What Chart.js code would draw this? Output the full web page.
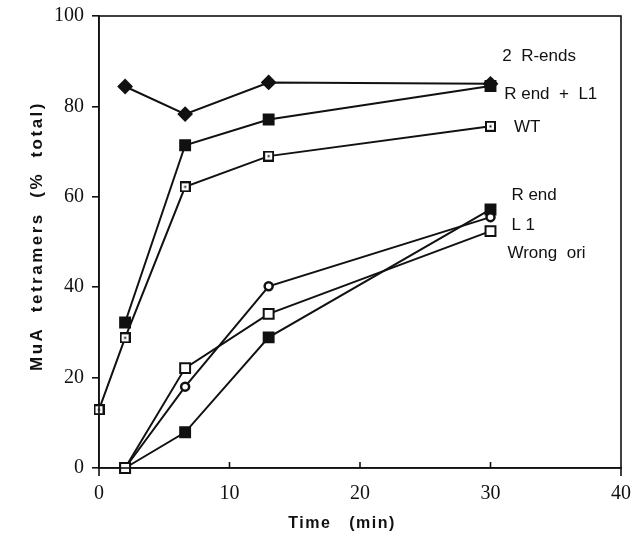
<!DOCTYPE html>
<html>
<head>
<meta charset="utf-8">
<script src="https://cdn.jsdelivr.net/npm/chart.js@4/dist/chart.umd.min.js"></script>
<style>
  html, body { margin:0; padding:0; background:#fff; }
  #wrap { width:641px; height:540px; }
</style>
</head>
<body>
<div id="wrap"><canvas id="chart" width="641" height="540"></canvas></div>
<script>
// ── Dados ──────────────────────────────────────────────────────────────
const timesTop   = [2, 6.6, 13, 30];
const timesWT    = [0, 2, 6.6, 13, 30];
const timesLow   = [2, 6.6, 13, 30];

const twoREnds   = [84.4, 78.3, 85.3, 85.0];
const rEndL1     = [32.2, 71.4, 77.1, 84.5];
const wildType   = [12.9, 28.8, 62.2, 69.0, 75.6];
const rEnd       = [0, 7.9, 28.9, 57.2];
const l1         = [0, 18.0, 40.2, 55.5];
const wrongOri   = [0, 22.1, 34.1, 52.4];

const seriesNames = ['2  R-ends', 'R end  +  L1', 'WT', 'R end', 'L 1', 'Wrong  ori'];
const xTicks = [0, 10, 20, 30, 40];
const yTicks = [0, 20, 40, 60, 80, 100];
const xTitle = 'Time   (min)';
const yTitle = 'MuA  tetramers  (%  total)';

const INK = '#111';
const SERIF = '"Liberation Serif", "DejaVu Serif", serif';
const SANS  = '"Liberation Sans", Arial, sans-serif';

function pts(xs, ys) { return xs.map((x, i) => ({ x, y: ys[i] })); }

// quadrado aberto com ponto no meio (WT)
function dotSquare() {
  const c = document.createElement('canvas');
  c.width = 11; c.height = 11;
  const g = c.getContext('2d');
  g.fillStyle = '#fff'; g.fillRect(0, 0, 11, 11);
  g.strokeStyle = INK; g.lineWidth = 2; g.strokeRect(1, 1, 9, 9);
  g.fillStyle = INK; g.fillRect(4.5, 4.5, 2, 2);
  return c;
}

function ds(label, data, style) {
  return Object.assign({
    label, data,
    borderColor: INK, borderWidth: 2, tension: 0,
    pointBorderColor: INK, pointBorderWidth: 2,
    pointBackgroundColor: INK, pointRadius: 5, clip: 12,
  }, style);
}

const datasets = [
  ds(seriesNames[5], pts(timesLow, wrongOri), { pointStyle:'rect', pointRadius:7, pointBackgroundColor:'#fff', order:0 }),
  ds(seriesNames[2], pts(timesWT, wildType),  { pointStyle: dotSquare(), order:1 }),
  ds(seriesNames[1], pts(timesTop, rEndL1),   { pointStyle:'rect', pointRadius:7, order:2 }),
  ds(seriesNames[0], pts(timesTop, twoREnds), { pointStyle:'rectRot', pointRadius:6.5, order:3 }),
  ds(seriesNames[4], pts(timesLow, l1),       { pointStyle:'circle', pointRadius:4, pointBorderWidth:2.5, pointBackgroundColor:'#fff', order:4 }),
  ds(seriesNames[3], pts(timesLow, rEnd),     { pointStyle:'rect', pointRadius:7, order:5 }),
];

// posição dos rótulos à direita (coordenadas de dados)
const labelAnchors = [
  { x: 30.9, y: 91.0 }, { x: 31.05, y: 82.7 }, { x: 31.8, y: 75.4 },
  { x: 31.6, y: 60.4 }, { x: 31.6, y: 53.8 }, { x: 31.3, y: 47.6 },
];

const framePlugin = {
  id: 'frame',
  afterDraw(chart) {
    const { ctx, chartArea: a, scales: { x, y } } = chart;
    ctx.save();
    ctx.strokeStyle = INK; ctx.lineWidth = 1.6;
    ctx.strokeRect(a.left, a.top, a.right - a.left, a.bottom - a.top);
    // ticks do eixo x para dentro
    xTicks.forEach(v => {
      const px = x.getPixelForValue(v);
      ctx.beginPath();
      ctx.moveTo(px, a.bottom);
      ctx.lineTo(px, v === 0 || v === 40 ? a.bottom + 8 : a.bottom - 6);
      ctx.stroke();
    });
    // rótulos das séries
    ctx.fillStyle = INK; ctx.font = '17px ' + SANS;
    ctx.textAlign = 'left'; ctx.textBaseline = 'middle';
    seriesNames.forEach((t, i) => {
      ctx.fillText(t, x.getPixelForValue(labelAnchors[i].x), y.getPixelForValue(labelAnchors[i].y));
    });
    // títulos dos eixos
    ctx.font = 'bold 16px ' + SANS;
    ctx.letterSpacing = '1.5px';
    ctx.textAlign = 'center';
    ctx.fillText(xTitle, (a.left + a.right) / 2 - 18, a.bottom + 56);
    ctx.font = 'bold 17px ' + SANS;
    ctx.letterSpacing = '2.5px';
    ctx.translate(37, (a.top + a.bottom) / 2 - 6);
    ctx.rotate(-Math.PI / 2);
    ctx.fillText(yTitle, 0, 0);
    ctx.restore();
  },
};

new Chart(document.getElementById('chart'), {
  type: 'line',
  data: { datasets },
  plugins: [framePlugin],
  options: {
    responsive: false, animation: false, devicePixelRatio: 1,
    layout: { padding: { top: 16, right: 20, left: 0, bottom: 0 } },
    plugins: { legend: { display: false }, tooltip: { enabled: false } },
    scales: {
      x: {
        type: 'linear', min: 0, max: 40,
        afterFit(s) { s.height = 72; s.paddingLeft = 0; s.paddingRight = 0; },
        afterBuildTicks(s) { s.ticks = xTicks.map(v => ({ value: v })); },
        grid: { display: true, drawOnChartArea: false, drawTicks: false, color: INK },
        border: { color: INK, width: 1.6 },
        ticks: { color: INK, font: { family: SERIF, size: 20 }, padding: 14, maxRotation: 0 },
      },
      y: {
        min: 0, max: 100,
        afterFit(s) { s.width = 99; s.paddingTop = 0; s.paddingBottom = 0; },
        afterBuildTicks(s) { s.ticks = yTicks.map(v => ({ value: v })); },
        grid: { display: true, drawOnChartArea: false, drawTicks: true, tickLength: 7, color: INK, lineWidth: 1.6 },
        border: { color: INK, width: 1.6 },
        ticks: { color: INK, font: { family: SERIF, size: 20 }, padding: 8 },
      },
    },
  },
});
</script>
</body>
</html>
